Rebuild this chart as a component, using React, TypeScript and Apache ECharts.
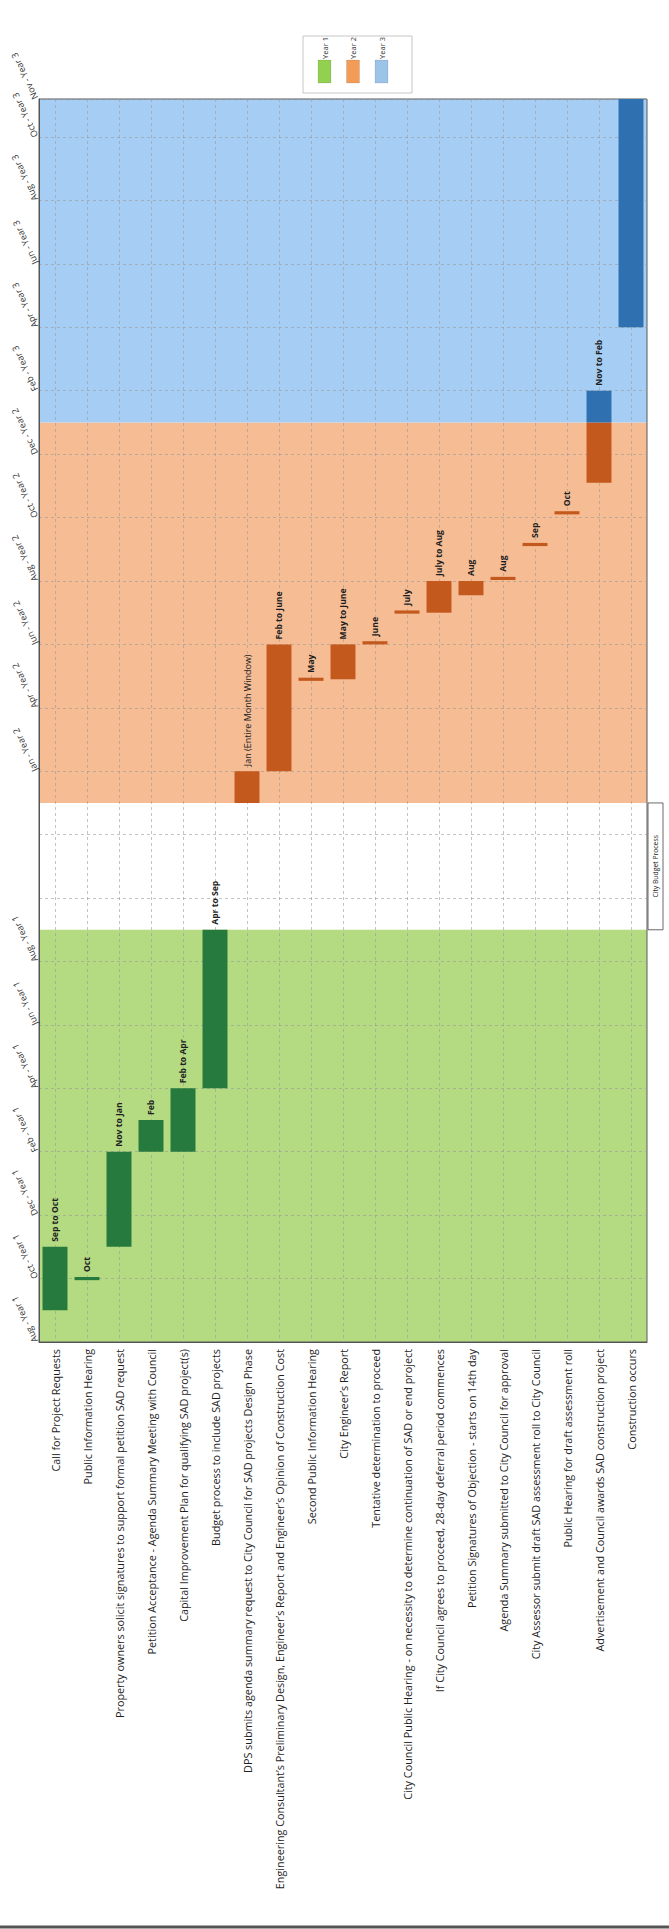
import React, { useEffect, useRef } from 'react';
import * as echarts from 'echarts';

// ---------- data ----------
const tasks = [
  'Call for Project Requests',
  'Public Information Hearing',
  'Property owners solicit signatures to support formal petition SAD request',
  'Petition Acceptance - Agenda Summary Meeting with Council',
  'Capital Improvement Plan for qualifying SAD project(s)',
  'Budget process to include SAD projects',
  'DPS submits agenda summary request to City Council for SAD projects Design Phase',
  'Engineering Consultant’s Preliminary Design, Engineer’s Report and Engineer’s Opinion of Construction Cost',
  'Second Public Information Hearing',
  'City Engineer’s Report',
  'Tentative determination to proceed',
  'City Council Public Hearing - on necessity to determine continuation of SAD or end project',
  'If City Council agrees to proceed, 28-day deferral period commences',
  'Petition Signatures of Objection - starts on 14th day',
  'Agenda Summary submitted to City Council for approval',
  'City Assessor submit draft SAD assessment roll to City Council',
  'Public Hearing for draft assessment roll',
  'Advertisement and Council awards SAD construction project',
  'Construction occurs',
];

// months counted from the "Aug - Year 1" baseline
const startMonth = [1, 1.95, 3, 6, 6, 8, 17, 18, 20.85, 20.9, 22, 22.97, 23, 23.55, 24.03, 25.1, 26.1, 27.1, 32];
const endMonth = [3, 2.05, 6, 7, 8, 13, 18, 22, 20.95, 22, 22.1, 23.07, 24, 24, 24.13, 25.2, 26.2, 29, 39.2];
// Year-3 continuation of a bar (only the advertisement task)
const extEnd = [null, null, null, null, null, null, null, null, null, null, null, null, null, null, null, null, null, 30, null];
const taskYear = [1, 1, 1, 1, 1, 1, 2, 2, 2, 2, 2, 2, 2, 2, 2, 2, 2, 2, 3];
const barLabels = ['Sep to Oct', 'Oct', 'Nov to Jan', 'Feb', 'Feb to Apr', 'Apr to Sep', 'Jan (Entire Month Window)', 'Feb to June', 'May', 'May to June', 'June', 'July', 'July to Aug', 'Aug', 'Aug', 'Sep', 'Oct', 'Nov to Feb', ''];

const timeLabels = ['Aug - Year 1', 'Oct - Year 1', 'Dec - Year 1', 'Feb - Year 1', 'Apr - Year 1', 'Jun - Year 1', 'Aug - Year 1', '', '', 'Jan - Year 2', 'Apr - Year 2', 'Jun - Year 2', 'Aug - Year 2', 'Oct - Year 2', 'Dec - Year 2', 'Feb - Year 3', 'Apr - Year 3', 'Jun - Year 3', 'Aug - Year 3', 'Oct - Year 3', 'Nov - Year 3'];
const axisMax = 39.2;

const yearNames = ['Year 1', 'Year 2', 'Year 3'];
const yearBandStart = [0, 17, 29];
const yearBandEnd = [13, 29, 39.2];
const budgetGap = [13, 17];

const bandColors = ['#b4db81', '#f6bc94', '#a6cdf3'];
const barColors = ['#277a3e', '#c4591d', '#2f71b0'];
const legendColors = ['#92d050', '#f29c58', '#9cc3e8'];

const FONT = 'Open Sans';

export default function App() {
  const ref = useRef<HTMLDivElement>(null);

  useEffect(() => {
    document.body.style.margin = '0';
    const chart = echarts.init(ref.current as HTMLDivElement, null, { renderer: 'svg' });

    const labelBase = {
      show: true,
      position: 'top',
      rotate: 90,
      align: 'left',
      verticalAlign: 'middle',
      distance: 5,
      fontSize: 8.6,
      fontWeight: 'bold',
      fontFamily: FONT,
      color: '#1e1e1e',
    };

    const mainData = tasks.map((_, i) => ({
      value: +(endMonth[i] - startMonth[i]).toFixed(3),
      itemStyle: { color: barColors[taskYear[i] - 1] },
      label:
        barLabels[i] && extEnd[i] == null
          ? i === 6
            ? { ...labelBase, formatter: barLabels[i], fontWeight: 'normal', fontSize: 9 }
            : { ...labelBase, formatter: barLabels[i] }
          : { show: false },
    }));
    const extData = tasks.map((_, i) =>
      extEnd[i] == null
        ? '-'
        : {
            value: +((extEnd[i] as number) - endMonth[i]).toFixed(3),
            itemStyle: { color: barColors[2] },
            label: { ...labelBase, formatter: barLabels[i] },
          }
    );

    const bands: any[] = yearBandStart.map((s, i) => [
      { yAxis: s, itemStyle: { color: bandColors[i] } },
      { yAxis: yearBandEnd[i] },
    ]);

    const option: any = {
      animation: false,
      backgroundColor: '#ffffff',
      grid: {
        left: 39,
        right: 22,
        top: 99,
        bottom: 587,
        show: true,
        borderColor: '#5a5a5a',
        borderWidth: 1,
        backgroundColor: 'transparent',
      },
      xAxis: [
        {
          type: 'category',
          data: tasks,
          axisLine: { show: true, lineStyle: { color: '#555', width: 1 } },
          axisTick: { show: false },
          splitLine: { show: false },
          axisLabel: {
            interval: 0,
            rotate: 90,
            margin: 7,
            fontSize: 10.8,
            fontFamily: FONT,
            color: '#1e1e1e',
          },
        },
        {
          type: 'value',
          min: 0,
          max: 38,
          interval: 1,
          position: 'bottom',
          axisLine: { show: false },
          axisTick: { show: false },
          axisLabel: { show: false },
          splitLine: {
            show: true,
            lineStyle: { color: ['rgba(0,0,0,0)', '#9a9a9a'], type: [3, 3], width: 0.6 },
          },
        },
      ],
      yAxis: {
        type: 'value',
        min: 0,
        max: axisMax,
        interval: 2,
        axisLine: { show: true, lineStyle: { color: '#555', width: 1 } },
        axisTick: { show: false },
        splitLine: { show: true, lineStyle: { color: '#9a9a9a', type: [3, 3], width: 0.6 } },
        axisLabel: {
          rotate: 115,
          margin: 4,
          fontSize: 9,
          fontFamily: FONT,
          color: '#333',
          formatter: (v: number) => {
            if (Math.abs(v - axisMax) < 0.01) return timeLabels[timeLabels.length - 1];
            const idx = Math.round(v / 2);
            return timeLabels[idx] || '';
          },
        },
      },
      series: [
        {
          name: 'base',
          type: 'bar',
          stack: 'gantt',
          barCategoryGap: '22%',
          silent: true,
          itemStyle: { color: 'rgba(0,0,0,0)' },
          data: startMonth,
          markArea: {
            silent: true,
            z: -1,
            data: bands,
          },
        },
        {
          name: 'duration',
          type: 'bar',
          stack: 'gantt',
          barCategoryGap: '22%',
          data: mainData,
        },
        {
          name: 'Year 3 part',
          type: 'bar',
          stack: 'gantt',
          barCategoryGap: '22%',
          data: extData,
        },
      ],
    };

    chart.setOption(option);

    // derived overlay elements (positions from the chart's own scales)
    const xRight = chart.convertToPixel({ xAxisIndex: 1 }, 38) as number;
    const yGapTop = chart.convertToPixel({ yAxisIndex: 0 }, budgetGap[1]) as number;
    const yGapBot = chart.convertToPixel({ yAxisIndex: 0 }, budgetGap[0]) as number;

    const legendX = 303;
    const legendY = 36;
    const legendEls: any[] = [
      {
        type: 'rect',
        shape: { x: legendX, y: legendY, width: 109, height: 57 },
        style: { fill: '#fff', stroke: '#c6c6c6', lineWidth: 1 },
      },
    ];
    yearNames.forEach((name, i) => {
      const cx = legendX + 21.5 + i * 28.5;
      legendEls.push({
        type: 'rect',
        shape: { x: cx - 6.5, y: legendY + 24, width: 13, height: 23 },
        style: { fill: legendColors[i], stroke: 'rgba(0,0,0,0.15)', lineWidth: 0.6 },
      });
      legendEls.push({
        type: 'text',
        x: cx,
        y: legendY + 12,
        rotation: Math.PI / 2,
        style: {
          text: name,
          fontSize: 7.5,
          fontFamily: FONT,
          fill: '#333',
          align: 'center',
          verticalAlign: 'middle',
        },
      });
    });

    chart.setOption({
      graphic: [
        ...legendEls,
        {
          type: 'rect',
          shape: { x: xRight + 1, y: yGapTop, width: 15, height: yGapBot - yGapTop },
          style: { fill: '#fff', stroke: '#444', lineWidth: 0.8 },
        },
        {
          type: 'text',
          x: xRight + 8.5,
          y: (yGapTop + yGapBot) / 2,
          rotation: Math.PI / 2,
          style: {
            text: 'City Budget Process',
            fontSize: 6.8,
            fontFamily: FONT,
            fill: '#222',
            align: 'center',
            verticalAlign: 'middle',
          },
        },
        {
          type: 'line',
          shape: { x1: 0, y1: 1927, x2: 669, y2: 1927 },
          style: { stroke: '#555', lineWidth: 3 },
        },
      ],
    });

    return () => chart.dispose();
  }, []);

  return <div ref={ref} style={{ width: 669, height: 1929 }} />;
}
